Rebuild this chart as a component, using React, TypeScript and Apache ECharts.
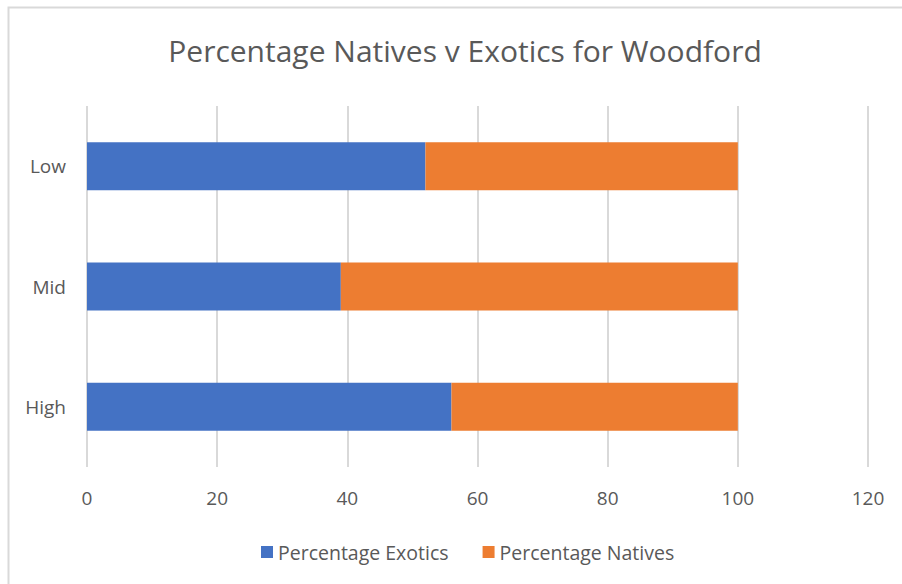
import React, { useEffect, useRef } from "react";
import * as echarts from "echarts";

// Survey zones, listed top to bottom
const categories = ["Low", "Mid", "High"];
// Share of exotic species per zone (%)
const exotics = [52, 39, 56];
// Share of native species per zone (%)
const natives = [48, 61, 44];
const xTicks = { min: 0, max: 120, interval: 20 };

const TEXT = "#595959";
const FONT = "'Open Sans', 'Noto Sans', sans-serif";

export default function App() {
  const ref = useRef<HTMLDivElement>(null);

  useEffect(() => {
    if (!ref.current) return;
    const chart = echarts.init(ref.current, undefined, { renderer: "svg" });
    chart.setOption({
      animation: false,
      backgroundColor: "#ffffff",
      textStyle: { fontFamily: FONT },
      title: {
        text: "Percentage Natives v Exotics for Woodford",
        left: 460,
        textAlign: "center",
        top: 30,
        textStyle: { color: TEXT, fontSize: 30, fontWeight: "normal", fontFamily: FONT },
      },
      graphic: [
        {
          type: "rect",
          shape: { x: 8.5, y: 7.5, width: 1000, height: 700 },
          style: { fill: "none", stroke: "#d9d9d9", lineWidth: 2 },
          silent: true,
        },
      ],
      legend: {
        left: 256,
        top: 537,
        icon: "rect",
        itemWidth: 12,
        itemHeight: 12,
        itemGap: 34,
        textStyle: { color: TEXT, fontSize: 19.5, fontFamily: FONT },
        data: ["Percentage Exotics", "Percentage Natives"],
      },
      grid: { left: 87, right: 34, top: 106, bottom: 117, containLabel: false },
      xAxis: {
        type: "value",
        min: xTicks.min,
        max: xTicks.max,
        interval: xTicks.interval,
        axisLine: { show: false },
        axisTick: { show: false },
        splitLine: { show: true, lineStyle: { color: "#d9d9d9", width: 2 } },
        axisLabel: { color: TEXT, fontSize: 19, margin: 21, fontFamily: FONT },
      },
      yAxis: {
        type: "category",
        data: categories,
        inverse: true,
        axisLine: { show: false },
        axisTick: { show: false },
        splitLine: { show: false },
        axisLabel: { color: TEXT, fontSize: 19, margin: 21, fontFamily: FONT },
      },
      series: [
        {
          name: "Percentage Exotics",
          type: "bar",
          stack: "total",
          data: exotics,
          barWidth: 48,
          itemStyle: { color: "#4472C4" },
        },
        {
          name: "Percentage Natives",
          type: "bar",
          stack: "total",
          data: natives,
          barWidth: 48,
          itemStyle: { color: "#ED7D31" },
        },
      ],
    });
    return () => chart.dispose();
  }, []);

  return (
    <div
      ref={ref}
      style={{ position: "absolute", left: 0, top: 0, width: 902, height: 584 }}
    />
  );
}
